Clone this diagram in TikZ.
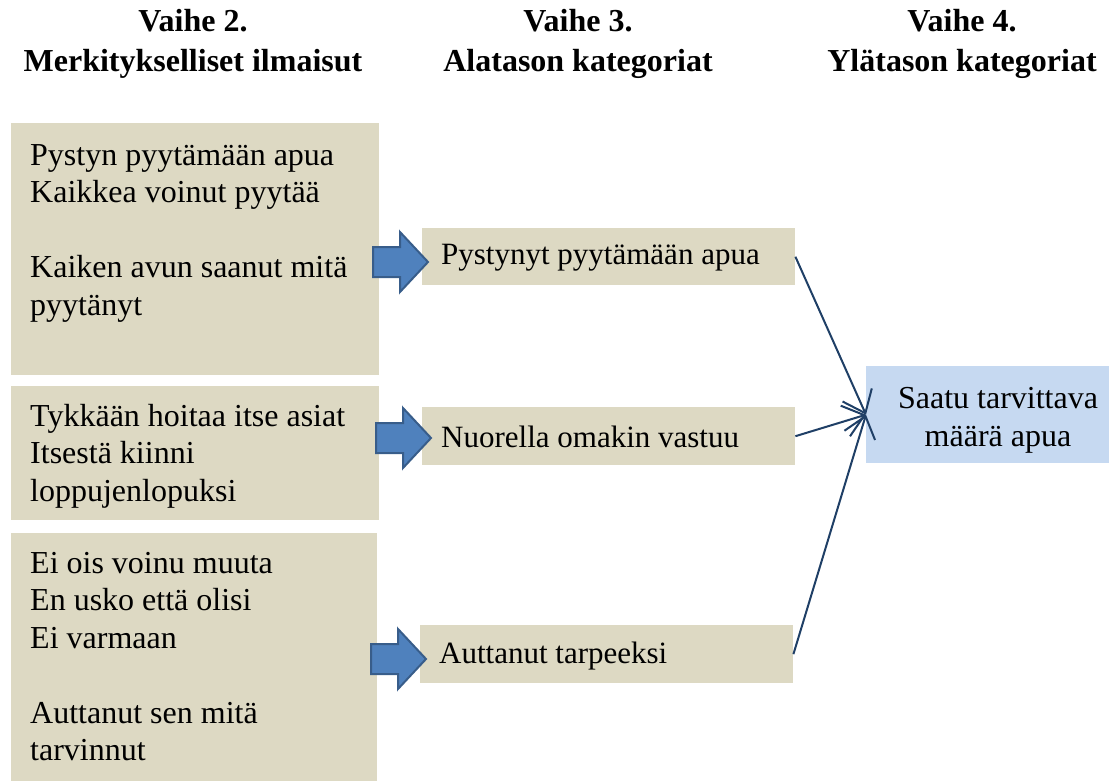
\documentclass[tikz,border=0pt]{standalone}
\usepackage{fontspec}
\setmainfont{Liberation Serif}
\usetikzlibrary{arrows.meta}
\definecolor{tan}{HTML}{DDD9C3}
\definecolor{lblue}{HTML}{C6D9F1}
\definecolor{afill}{HTML}{4F81BD}
\definecolor{aedge}{HTML}{385D8A}
\definecolor{navy}{HTML}{1F3F66}
\tikzset{
  tanbox/.style={fill=tan, draw=none, inner sep=0, anchor=north west},
  bluebox/.style={fill=lblue, draw=none, inner sep=0, anchor=north west},
  hdr/.style={font=\fontsize{32}{40}\selectfont\bfseries, align=center, inner sep=0},
  txt/.style={font=\fontsize{32}{37.5}\selectfont, align=left, inner sep=0, anchor=north west},
  midtxt/.style={font=\fontsize{31}{37.5}\selectfont, anchor=west, inner sep=0},
  blockarr/.style={fill=afill, draw=aedge, line width=2pt, line join=miter},
  conn/.style={draw=navy, line width=2pt, -{Straight Barb[length=20pt,width=32pt,line width=2pt]}}
}
\newcommand{\blockarrow}[1]{%
  \draw[blockarr] (#1) ++(-27,-15) -- ++(27,0) -- ++(0,-15) -- ++(28,30) -- ++(-28,30) -- ++(0,-15) -- ++(-27,0) -- cycle;}
\begin{document}
\begin{tikzpicture}[x=1pt,y=-1pt]
\useasboundingbox (0,0) rectangle (1109,781);
% headers
\node[hdr] (h2) at (193,44) {Vaihe 2.\\Merkitykselliset ilmaisut};
\node[hdr] (h3) at (578,44) {Vaihe 3.\\Alatason kategoriat};
\node[hdr] (h4) at (962,44) {Vaihe 4.\\Ylätason kategoriat};
% left boxes
\node[tanbox, minimum width=368pt, minimum height=252pt] (b1) at (11,123) {};
\node[tanbox, minimum width=368pt, minimum height=134pt] (b2) at (11,386) {};
\node[tanbox, minimum width=366pt, minimum height=248pt] (b3) at (11,533) {};
\node[txt] (l1) at (30,144) {Pystyn pyytämään apua\\Kaikkea voinut pyytää\\[37.5pt]Kaiken avun saanut mitä\\pyytänyt};
\node[txt] (l2) at (30,404) {Tykkään hoitaa itse asiat\\Itsestä kiinni\\loppujenlopuksi};
\node[txt] (l3) at (30,552) {Ei ois voinu muuta\\En usko että olisi\\Ei varmaan\\[37.5pt]Auttanut sen mitä\\tarvinnut};
% middle boxes
\node[tanbox, minimum width=373pt, minimum height=57pt] (m1) at (422,228) {};
\node[tanbox, minimum width=373pt, minimum height=58pt] (m2) at (422,407) {};
\node[tanbox, minimum width=373pt, minimum height=58pt] (m3) at (420,625) {};
\node[midtxt] (t1) at (441,258) {Pystynyt pyytämään apua};
\node[midtxt] (t2) at (441,437) {Nuorella omakin vastuu};
\node[midtxt] (t3) at (439,656) {Auttanut tarpeeksi};
% right box
\node[bluebox, minimum width=243pt, minimum height=97pt] (r) at (866,366) {};
\node[font=\fontsize{32}{38}\selectfont, align=center, inner sep=0] (rt) at (998,420) {Saatu tarvittava\\määrä apua};
% block arrows
\coordinate (a1) at (400,262);
\coordinate (a2) at (403,438);
\coordinate (a3) at (398,659);
\blockarrow{a1}
\blockarrow{a2}
\blockarrow{a3}
% connectors
\draw[conn] (m1.east) -- (r.west);
\draw[conn] (m2.east) -- (r.west);
\draw[conn] (m3.east) -- (r.west);
\end{tikzpicture}
\end{document}
